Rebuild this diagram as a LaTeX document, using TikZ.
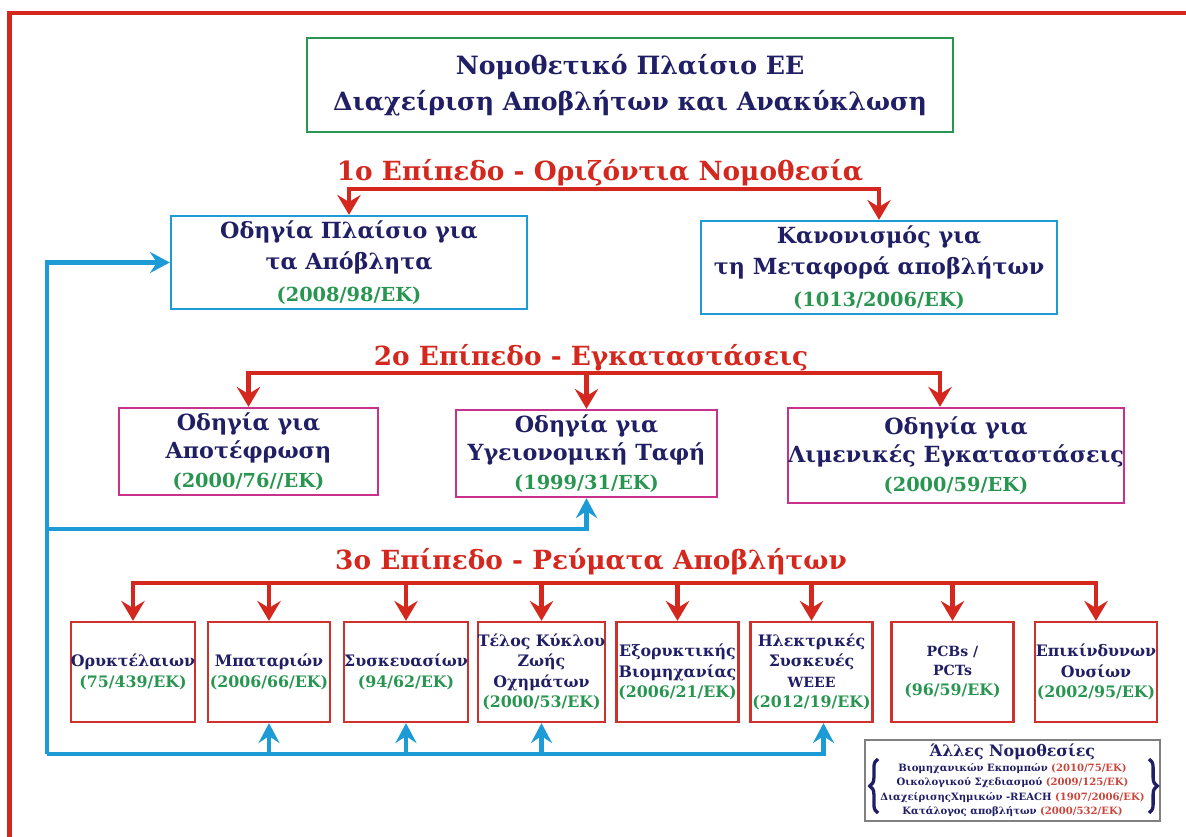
\documentclass[tikz,border=0pt]{standalone}
\usepackage{fontspec}
\setmainfont{DejaVu Serif}
\usetikzlibrary{arrows.meta,decorations.pathreplacing}
\definecolor{navy}{RGB}{32,30,100}
\definecolor{eured}{RGB}{212,40,30}
\definecolor{eugreen}{RGB}{40,150,80}
\definecolor{eublue}{RGB}{28,155,215}
\definecolor{eumagenta}{RGB}{200,50,140}
\definecolor{boxred}{RGB}{205,50,45}
\definecolor{codered}{RGB}{200,70,60}
\newcommand{\code}[1]{{\color{eugreen}#1}}
\newcommand{\rcode}[1]{{\color{codered}#1}}
\newcommand{\fs}[2]{\fontsize{#1}{#2}\selectfont}

\begin{document}
\begin{tikzpicture}[x=0.3mm, y=-0.3mm,
  lawbox/.style={draw, line width=2pt, align=center, text=navy, font=\bfseries, inner sep=0pt},
  lvlone/.style={lawbox, draw=eublue, minimum width=356*0.3mm, minimum height=93*0.3mm, font=\bfseries\fs{19}{27}},
  lvltwo/.style={lawbox, draw=eumagenta, minimum height=87*0.3mm, font=\bfseries\fs{19}{24}},
  lvlthree/.style={lawbox, draw=boxred, minimum width=122*0.3mm, minimum height=100*0.3mm, font=\bfseries\fs{13.5}{17.5}},
  header/.style={text=eured, font=\bfseries\fs{22.5}{26}},
  redarrow/.style={draw=eured, line width=4pt, -{Stealth[length=17pt,width=20pt,inset=6pt]}},
  bluearrow/.style={draw=eublue, line width=4pt, -{Stealth[length=17pt,width=18pt,inset=6pt]}},
  bracebar/.style={draw=navy, line width=2.8pt, decorate, decoration={brace, amplitude=7pt}}]

  \useasboundingbox (0,0) rectangle (1186,837);
  \draw[eured, line width=4.2pt] (9.5,837) |- (1186,13);

  \node[lawbox, draw=eugreen, minimum width=646*0.3mm, minimum height=94*0.3mm, font=\bfseries\fs{21.5}{31}] (title) at (630,85)
    {Νομοθετικό Πλαίσιο ΕΕ\\Διαχείριση Αποβλήτων και Ανακύκλωση};

  \node[header] (lvl1) at (600,173) {1ο Επίπεδο - Οριζόντια Νομοθεσία};
  \coordinate (hub1) at (600,189);
  \node[lvlone] (dir) at (349,262.5) {Οδηγία Πλαίσιο για\\τα Απόβλητα\\\code{\fs{16.5}{22}(2008/98/ΕΚ)}};
  \node[lvlone] (ship) at (879,267.5) {Κανονισμός για\\τη Μεταφορά αποβλήτων\\\code{\fs{16.5}{22}(1013/2006/ΕΚ)}};
  \draw[redarrow] (hub1) -| (dir.north);
  \draw[redarrow] (hub1) -| (ship.north);

  \node[header] (lvl2) at (591,358) {2ο Επίπεδο - Εγκαταστάσεις};
  \coordinate (hub2) at (591,373);
  \node[lvltwo, minimum width=259*0.3mm] (inc) at (248.5,451.5) {Οδηγία για\\Αποτέφρωση\\\code{\fs{16.5}{22}(2000/76//ΕΚ)}};
  \node[lvltwo, minimum width=261*0.3mm] (land) at (586.5,453.5) {Οδηγία για\\Υγειονομική Ταφή\\\code{\fs{16.5}{22}(1999/31/ΕΚ)}};
  \node[lvltwo, minimum width=332*0.3mm, minimum height=95*0.3mm] (port) at (956,455.5) {Οδηγία για\\Λιμενικές Εγκαταστάσεις\\\code{\fs{16.5}{24}(2000/59/ΕΚ)}};
  \draw[redarrow] (hub2) -| (inc.north);
  \draw[redarrow] (hub2) -| (land.north);
  \draw[redarrow] (hub2) -| ([xshift=-4.8mm]port.north);

  \node[header] (lvl3) at (591,562) {3ο Επίπεδο - Ρεύματα Αποβλήτων};
  \coordinate (hub3) at (591,583);
  \node[lvlthree] (s1) at (133,672) {Ορυκτέλαιων\\\code{(75/439/ΕΚ)}};
  \node[lvlthree] (s2) at (269,672) {Μπαταριών\\\code{(2006/66/ΕΚ)}};
  \node[lvlthree] (s3) at (406,672) {Συσκευασίων\\\code{(94/62/ΕΚ)}};
  \node[lvlthree] (s4) at (541.5,672) {Τέλος Κύκλου\\Ζωής\\Οχημάτων\\\code{(2000/53/ΕΚ)}};
  \node[lvlthree] (s5) at (677.5,672) {Εξορυκτικής\\Βιομηχανίας\\\code{(2006/21/ΕΚ)}};
  \node[lvlthree] (s6) at (811.5,672) {Ηλεκτρικές\\Συσκευές\\{\fs{12}{17}WEEE}\\\code{(2012/19/ΕΚ)}};
  \node[lvlthree, font=\bfseries\fs{12}{17}] (s7) at (952.5,672) {PCBs /\\PCTs\\\code{\fs{13.5}{20}(96/59/ΕΚ)}};
  \node[lvlthree] (s8) at (1096,672) {Επικίνδυνων\\Ουσίων\\\code{(2002/95/ΕΚ)}};
  \foreach \s in {s1,s2,s3,s4,s5,s6,s7,s8}
    \draw[redarrow] (hub3) -| (\s.north);

  \coordinate (fb) at (47,754);
  \coordinate (fm) at (47,529);
  \draw[bluearrow] (fb) |- (dir.west);
  \draw[bluearrow] (fm) -| (land.south);
  \draw[bluearrow] (fb) -| ([xshift=3.6mm]s6.south);
  \foreach \s in {s2,s3,s4}
    \draw[bluearrow] (fb -| \s.south) -- (\s.south);

  \node[lawbox, draw=black!50, line width=2pt, minimum width=295*0.3mm, minimum height=81*0.3mm, font=\bfseries\fs{8.6}{12.3}] (other) at (1012.5,780.5)
    {{\fs{13.5}{15}Άλλες Νομοθεσίες}\\Βιομηχανικών Εκπομπών \rcode{(2010/75/ΕΚ)}\\Οικολογικού Σχεδιασμού \rcode{(2009/125/ΕΚ)}\\ΔιαχείρισηςΧημικών -REACH \rcode{(1907/2006/ΕΚ)}\\Κατάλογος αποβλήτων \rcode{(2000/532/ΕΚ)}};
  \coordinate (lb1) at (878,813);
  \coordinate (lb2) at (878,759);
  \coordinate (rb1) at (1149,759);
  \coordinate (rb2) at (1149,813);
  \draw[bracebar] (lb1) -- (lb2);
  \draw[bracebar] (rb1) -- (rb2);
\end{tikzpicture}
\end{document}
